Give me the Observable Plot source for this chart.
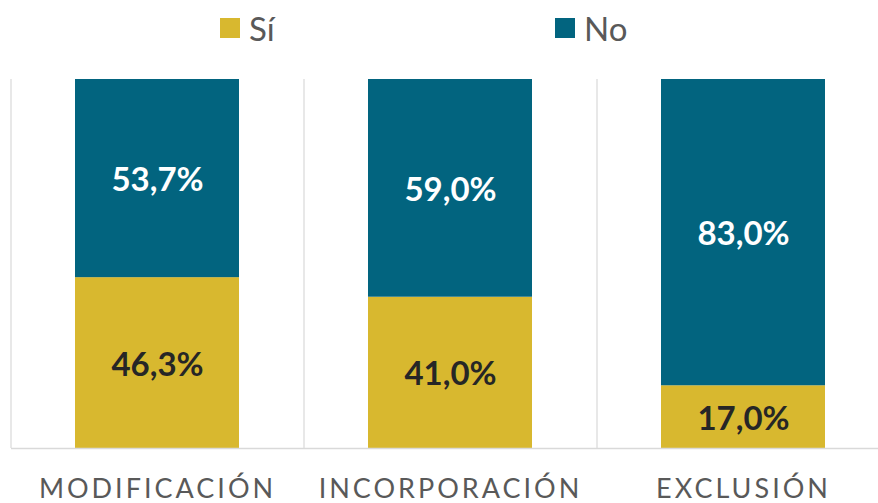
<!DOCTYPE html>
<html><head><meta charset="utf-8">
<script src="https://cdn.jsdelivr.net/npm/d3@7"></script>
<script src="https://cdn.jsdelivr.net/npm/@observablehq/plot@0.6"></script>
<style>
html,body{margin:0;padding:0;background:#fff;overflow:hidden;}
#legend{position:relative;height:60px;width:878px;font-family:Lato,"Open Sans",sans-serif;font-size:33px;color:#595959;}
.item{position:absolute;top:8px;display:flex;align-items:center;}
.sw{width:20px;height:20px;margin-right:9px;}
</style></head>
<body>
<div id="legend"></div>
<div id="chart"></div>
<script>
const categories = ["MODIFICACIÓN", "INCORPORACIÓN", "EXCLUSIÓN"];
const series = ["Sí", "No"];
const siValues = [46.3, 41.0, 17.0];
const noValues = [53.7, 59.0, 83.0];
const colors = ["#D8B82F", "#02647F"];
const labelColors = ["#262626", "#ffffff"];

const data = [];
categories.forEach((c, i) => {
  data.push({cat: c, series: "Sí", value: siValues[i]});
  data.push({cat: c, series: "No", value: noValues[i]});
});

// legend
const legend = document.getElementById("legend");
const legendX = [220, 555];
series.forEach((s, i) => {
  const d = document.createElement("div");
  d.className = "item";
  d.style.left = legendX[i] + "px";
  d.innerHTML = `<div class="sw" style="background:${colors[i]}"></div><span>${s}</span>`;
  legend.appendChild(d);
});

const width = 878, marginLeft = 11, marginRight = -12;
const band = (width - marginLeft - marginRight) / categories.length;
const fmt = v => v.toFixed(1).replace(".", ",") + "%";

const chart = Plot.plot({
  width, height: 443,
  marginLeft, marginRight, marginTop: 19, marginBottom: 55,
  style: {fontFamily: "Lato, 'Open Sans', sans-serif", background: "#fff"},
  x: {domain: categories, padding: 0.44, paddingOuter: 0.22, align: 0.5, label: null},
  y: {domain: [0, 100], axis: null},
  color: {domain: series, range: colors},
  marks: [
    Plot.ruleX(categories, {x: d => d, dx: -band / 2, stroke: "#d9d9d9", strokeWidth: 1.2}),
    Plot.barY(data, {x: "cat", y: "value", fill: "series", z: "series", order: series}),
    Plot.ruleY([0], {stroke: "#d9d9d9", strokeWidth: 1.5}),
    Plot.text(data, Plot.stackY({
      x: "cat", y: "value", z: "series", order: series,
      text: d => fmt(d.value),
      fill: d => labelColors[series.indexOf(d.series)],
      fontSize: 33, fontWeight: "bold", dy: 2
    })),
    Plot.axisX({tickSize: 0, tickPadding: 30, fontSize: 27, fill: "#595959", label: null})
  ]
});
d3.select(chart).selectAll("[aria-label='x-axis tick label'] text").style("letter-spacing", "3px");
document.getElementById("chart").appendChild(chart);
</script>
</body></html>
